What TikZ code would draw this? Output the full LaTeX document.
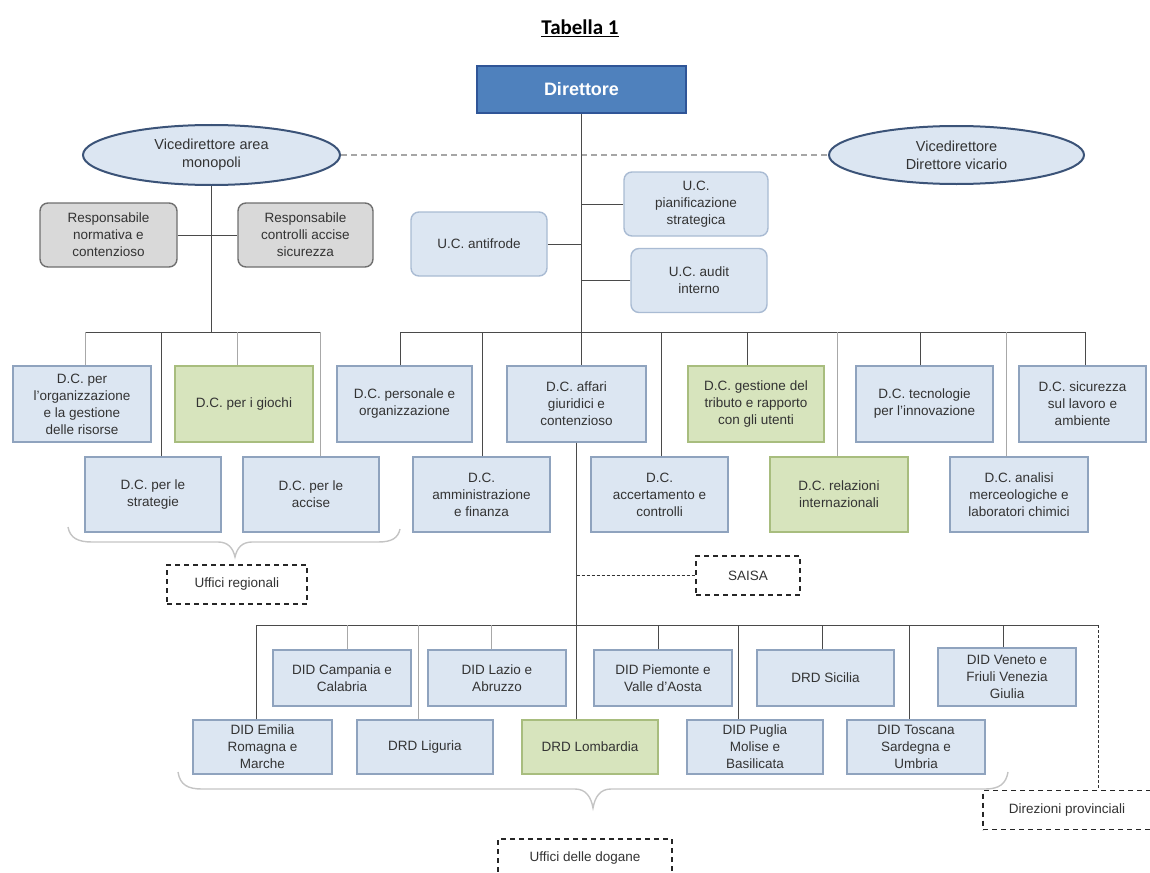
\documentclass[tikz,border=0pt]{standalone}
\usepackage{fontspec}
\setmainfont{Liberation Sans}
\newfontfamily\titlefont{Carlito}
\usetikzlibrary{shapes.geometric}
\definecolor{boxblue}{HTML}{DCE6F2}
\definecolor{boxblueline}{HTML}{8FA3BE}
\definecolor{boxgreen}{HTML}{D7E4BD}
\definecolor{boxgreenline}{HTML}{A8BD7E}
\definecolor{dirfill}{HTML}{4F81BD}
\definecolor{dirline}{HTML}{2F5597}
\definecolor{ellline}{HTML}{3B5378}
\definecolor{grayfill}{HTML}{D9D9D9}
\definecolor{grayline}{HTML}{6F6F6F}
\definecolor{ucline}{HTML}{A9BBD3}
\definecolor{txt}{HTML}{333333}
\definecolor{linkc}{HTML}{4A4A4A}
\definecolor{linklc}{HTML}{A8A8A8}
\definecolor{bracec}{HTML}{C4C4C4}
\newcommand\dropline[4]{\draw[#1] ([xshift=#3pt]#2.north) -- ([xshift=#3pt]#2.north |- #4);}
\tikzset{
  sz/.style 2 args={minimum width=#1pt, minimum height=#2pt},
  base/.style={align=center, font=\fontsize{13.5}{17}\selectfont, text=txt, inner sep=2pt},
  bluebox/.style={base, draw=boxblueline, fill=boxblue, line width=1.2pt},
  greenbox/.style={base, draw=boxgreenline, fill=boxgreen, line width=1.2pt},
  ucbox/.style={base, draw=ucline, fill=boxblue, line width=1.4pt, rounded corners=8pt},
  graybox/.style={base, draw=grayline, fill=grayfill, line width=1.4pt, rounded corners=8pt},
  dirbox/.style={base, draw=dirline, fill=dirfill, line width=1.4pt, text=white, font=\fontsize{18}{22}\selectfont\bfseries},
  ell/.style={base, ellipse, draw=ellline, fill=boxblue, line width=2pt, inner sep=0pt, font=\fontsize{14.5}{18}\selectfont},
  dashbox/.style={base, draw=black!85, line width=1.2pt, dash pattern=on 5pt off 4pt},
  link/.style={draw=linkc, line width=1pt},
  linklt/.style={draw=linklc, line width=1pt},
  dashlink/.style={draw=gray!70, line width=1.6pt, dash pattern=on 6pt off 4pt},
  thindash/.style={draw=black!80, line width=0.9pt, dash pattern=on 3pt off 2pt},
  bracestyle/.style={draw=bracec, line width=1.4pt},
}
\begin{document}
\begin{tikzpicture}[x=1pt, y=-1pt]
\useasboundingbox (0,0) rectangle (1150,872);

\node[font=\titlefont\bfseries\fontsize{21}{24}\selectfont] (title) at (580,28) {\underline{Tabella 1}};

% top level
\node[dirbox, sz={209}{47}] (dir) at (581.5,89.5) {Direttore};
\node[ell, sz={257}{60}] (vl) at (211.5,155) {Vicedirettore area\\monopoli};
\node[ell, sz={255}{58}] (vr) at (956.5,155) {Vicedirettore\\Direttore vicario};

\node[graybox, sz={137}{64}] (resp1) at (108.5,235) {Responsabile\\normativa e\\contenzioso};
\node[graybox, sz={135}{64}] (resp2) at (305.5,235) {Responsabile\\controlli accise\\sicurezza};

\node[ucbox, sz={136}{64}] (ucaf) at (479,244) {U.C. antifrode};
\node[ucbox, sz={144}{64}] (ucpi) at (696,204) {U.C.\\pianificazione\\strategica};
\node[ucbox, sz={136}{64}] (ucau) at (699,280.5) {U.C. audit\\interno};

% central directorates, upper row
\node[bluebox, sz={138}{76}] (org) at (82,404) {D.C. per\\l'organizzazione\\e la gestione\\delle risorse};
\node[greenbox, sz={138}{76}] (giochi) at (244,404) {D.C. per i giochi};
\node[bluebox, sz={135}{76}] (pers) at (404.5,404) {D.C. personale e\\organizzazione};
\node[bluebox, sz={139}{76}] (affari) at (576.5,404) {D.C. affari\\giuridici e\\contenzioso};
\node[greenbox, sz={136}{76}] (gest) at (756,404) {D.C. gestione del\\tributo e rapporto\\con gli utenti};
\node[bluebox, sz={137}{76}] (tecn) at (924.5,404) {D.C. tecnologie\\per l'innovazione};
\node[bluebox, sz={127}{76}] (sic) at (1082.5,404) {D.C. sicurezza\\sul lavoro e\\ambiente};

% central directorates, lower row
\node[bluebox, sz={136}{75}] (strat) at (153,494.5) {D.C. per le\\strategie};
\node[bluebox, sz={136}{75}] (accise) at (311,494.5) {D.C. per le\\accise};
\node[bluebox, sz={137}{75}] (amm) at (481.5,494.5) {D.C.\\amministrazione\\e finanza};
\node[bluebox, sz={137}{75}] (accert) at (659.5,494.5) {D.C.\\accertamento e\\controlli};
\node[greenbox, sz={138}{75}] (rel) at (839,494.5) {D.C. relazioni\\internazionali};
\node[bluebox, sz={138}{75}] (anal) at (1019,494.5) {D.C. analisi\\merceologiche e\\laboratori chimici};

\node[dashbox, sz={140}{39}] (uffreg) at (237,584.5) {Uffici regionali};
\node[dashbox, sz={104}{39}] (saisa) at (748,575.5) {SAISA};

% regional directorates
\node[bluebox, sz={138}{56}] (campania) at (342,678) {DID Campania e\\Calabria};
\node[bluebox, sz={138}{56}] (lazio) at (497,678) {DID Lazio e\\Abruzzo};
\node[bluebox, sz={138}{56}] (piemonte) at (663,678) {DID Piemonte e\\Valle d'Aosta};
\node[bluebox, sz={137}{56}] (sicilia) at (825.5,678) {DRD Sicilia};
\node[bluebox, sz={138}{58}] (veneto) at (1007,677) {DID Veneto e\\Friuli Venezia\\Giulia};
\node[bluebox, sz={139}{54}] (emilia) at (262.5,747) {DID Emilia\\Romagna e\\Marche};
\node[bluebox, sz={136}{54}] (liguria) at (425,747) {DRD Liguria};
\node[greenbox, sz={136}{54}] (lombardia) at (590,747) {DRD Lombardia};
\node[bluebox, sz={136}{54}] (puglia) at (755,747) {DID Puglia\\Molise e\\Basilicata};
\node[bluebox, sz={138}{54}] (toscana) at (916,747) {DID Toscana\\Sardegna e\\Umbria};

\node[dashbox, sz={174}{38}] (uffdog) at (585,858) {Uffici delle dogane};
\node[dashbox, sz={168}{39}] (dirprov) at (1067,810) {Direzioni provinciali};

% bus coordinates
\coordinate (lb) at (0,332);
\coordinate (rb) at (0,332);
\coordinate (bb) at (0,625);
\coordinate (dpc) at (1098,625);

% top connectors
\draw[dashlink] (vl.east) -- (vr.west);
\draw[link] (dir.south) -- (dir.south |- affari.north);
\draw[link] (ucaf.east) -- (ucaf.east -| dir.south);
\draw[link] (ucpi.west) -- (ucpi.west -| dir.south);
\draw[link] (ucau.west) -- (ucau.west -| dir.south);
\draw[link] (resp1.east) -- (resp2.west);
\draw[link] (vl.south) -- (vl.south |- lb);

% left bus
\draw[link] ([xshift=3pt]org.north |- lb) -- ([xshift=9pt]accise.north |- lb);
\dropline{linklt}{org}{3}{lb}
\dropline{link}{strat}{8}{lb}
\dropline{linklt}{giochi}{-7}{lb}
\dropline{linklt}{accise}{9}{lb}

% right bus
\draw[link] ([xshift=-4.5pt]pers.north |- rb) -- ([xshift=2.5pt]sic.north |- rb);
\dropline{link}{pers}{-4.5}{rb}
\dropline{link}{amm}{0.5}{rb}
\dropline{link}{accert}{1.5}{rb}
\dropline{link}{gest}{-9}{rb}
\dropline{linklt}{rel}{-2}{rb}
\dropline{link}{tecn}{-4.5}{rb}
\dropline{linklt}{anal}{-13}{rb}
\dropline{link}{sic}{2.5}{rb}

% braces
\draw[bracestyle] (68,527) .. controls (70,538) and (78,542) .. (92,542) -- (218,542)
  .. controls (228,542) and (233,548) .. (235,557)
  .. controls (237,548) and (242,542) .. (252,542) -- (378,542)
  .. controls (392,542) and (398,538) .. (400,529);
\draw[bracestyle] (178,772) .. controls (180,785) and (188,789) .. (202,789) -- (575,789)
  .. controls (586,789) and (591,797) .. (593,808)
  .. controls (595,797) and (600,789) .. (611,789) -- (985,789)
  .. controls (999,789) and (1006,784) .. (1008,772);

% lower part
\draw[link] (affari.south) -- (affari.south |- lombardia.north);
\draw[thindash] (affari.south |- saisa.west) -- (saisa.west);
\draw[link] ([xshift=-6.5pt]emilia.north |- bb) -- (dpc);
\draw[thindash] (dpc) -- (dpc |- dirprov.north);
\dropline{link}{emilia}{-6.5}{bb}
\dropline{linklt}{campania}{5}{bb}
\dropline{linklt}{liguria}{-7}{bb}
\dropline{linklt}{lazio}{-6}{bb}
\dropline{link}{piemonte}{-5}{bb}
\dropline{link}{puglia}{-17}{bb}
\dropline{link}{sicilia}{-3.5}{bb}
\dropline{link}{toscana}{-7}{bb}
\dropline{link}{veneto}{-4}{bb}
\end{tikzpicture}
\end{document}
